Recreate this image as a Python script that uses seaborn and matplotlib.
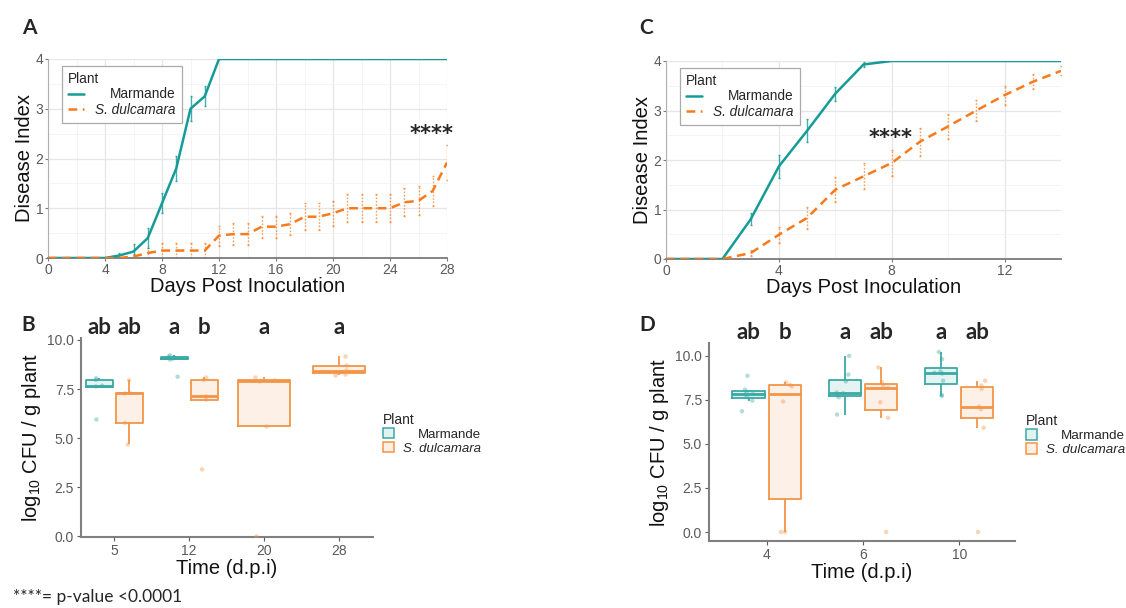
import numpy as np
import pandas as pd
import seaborn as sns
import matplotlib.pyplot as plt
from matplotlib.lines import Line2D
from matplotlib.patches import Patch
from matplotlib.colors import to_rgba

# ---- Disease index, experiment A (days 0-28) ----
days_a = list(range(0, 29))
marm_a = [0, 0, 0, 0, 0, 0.05, 0.13, 0.4, 1.1, 1.8, 3.0, 3.25, 4, 4, 4, 4, 4, 4, 4, 4,
          4, 4, 4, 4, 4, 4, 4, 4, 4]
dulc_a = [0, 0, 0, 0, 0, 0, 0.03, 0.1, 0.15, 0.15, 0.15, 0.15, 0.45, 0.48, 0.48, 0.63,
          0.63, 0.68, 0.83, 0.83, 0.9, 1.0, 1.0, 1.0, 1.0, 1.12, 1.15, 1.35, 1.92]
marm_a_err_days = [5, 6, 7, 8, 9, 10, 11]
marm_a_err = [0.05, 0.15, 0.2, 0.2, 0.25, 0.25, 0.2]
dulc_a_err_days = list(range(6, 29))
dulc_a_err = [0.05, 0.1, 0.15, 0.15, 0.15, 0.15, 0.2, 0.22, 0.22, 0.22, 0.22, 0.22,
              0.27, 0.27, 0.25, 0.28, 0.28, 0.28, 0.28, 0.28, 0.29, 0.3, 0.35]

# ---- Disease index, experiment C (days 0-14) ----
days_c = list(range(0, 15))
marm_c = [0, 0, 0, 0.8, 1.87, 2.59, 3.34, 3.93, 4, 4, 4, 4, 4, 4, 4]
dulc_c = [0, 0, 0, 0.12, 0.49, 0.83, 1.4, 1.67, 1.94, 2.37, 2.68, 3.0, 3.31, 3.58, 3.8]
marm_c_err_days = [3, 4, 5, 6, 7]
marm_c_err = [0.12, 0.24, 0.23, 0.14, 0.05]
dulc_c_err_days = list(range(3, 15))
dulc_c_err = [0.06, 0.16, 0.22, 0.25, 0.26, 0.26, 0.28, 0.25, 0.22, 0.19, 0.15, 0.09]

# ---- Bacterial load, experiment B ----
times_b = ['5', '12', '20', '28']
marm_b = {'5': [5.95, 7.63, 7.67, 7.97, 8.05],
          '12': [8.13, 9.0, 9.05, 9.1, 9.15, 9.22]}
dulc_b = {'5': [4.68, 5.78, 7.28, 7.3, 7.95],
          '12': [3.41, 6.96, 7.13, 7.97, 8.09],
          '20': [0.0, 5.64, 7.92, 7.97, 8.12],
          '28': [8.2, 8.27, 8.38, 8.45, 8.75, 9.2]}
letters_b = ['ab', 'ab', 'a', 'b', 'a', 'a']

# ---- Bacterial load, experiment D ----
times_d = ['4', '6', '10']
marm_d = {'4': [6.86, 7.46, 7.65, 7.8, 7.85, 7.95, 8.08, 8.87],
          '6': [6.67, 7.65, 7.75, 7.88, 7.92, 8.55, 8.94, 10.0],
          '10': [7.74, 7.76, 8.59, 9.0, 9.04, 9.12, 9.81, 10.22]}
dulc_d = {'4': [0.0, 0.0, 7.41, 8.27, 8.35, 8.5],
          '6': [0.0, 6.48, 7.37, 8.18, 8.3, 8.5, 9.34],
          '10': [0.0, 5.92, 6.97, 7.12, 8.12, 8.31, 8.59]}
letters_d = ['ab', 'b', 'a', 'ab', 'a', 'ab']

plants = ['Marmande', 'S. dulcamara']
teal = '#169c98'
orange = '#f77a1c'
teal_box = '#3aa9a5'
orange_box = '#f39548'

sns.set_theme(style='white')
plt.rcParams['font.family'] = ['Liberation Sans', 'DejaVu Sans']
plt.rcParams['mathtext.default'] = 'regular'

fig = plt.figure(figsize=(11.26, 6.08), dpi=100)
W, H = 1126, 608


def px_axes(l, t, r, b):
    return fig.add_axes([l / W, 1 - b / H, (r - l) / W, (b - t) / H])


def legend_align(leg):
    # right-align the labels like the ggplot legend
    fig.canvas.draw()
    texts = leg.get_texts()
    widths = [t.get_window_extent().width for t in texts]
    wmax = max(widths)
    for t, w in zip(texts, widths):
        t.set_x(wmax - w)


def line_panel(ax, days, marm, dulc, me_days, me, de_days, de, xmax, xticks):
    df = pd.DataFrame({'day': days * 2, 'di': marm + dulc,
                       'Plant': ['Marmande'] * len(days) + ['S. dulcamara'] * len(days)})
    ax.set_axisbelow(True)
    ax.xaxis.set_minor_locator(plt.MultipleLocator(xticks[1] / 2))
    ax.yaxis.set_minor_locator(plt.MultipleLocator(0.5))
    ax.grid(which='major', color='#e6e6e6', lw=0.9)
    ax.grid(which='minor', color='#f2f2f2', lw=0.6)
    mvals = [marm[days.index(d)] for d in me_days]
    dvals = [dulc[days.index(d)] for d in de_days]
    eb = ax.errorbar(de_days, dvals, yerr=de, fmt='none', ecolor=orange, alpha=0.7,
                     elinewidth=1.0, capsize=0.8, zorder=2)
    eb.lines[2][0].set_linestyle((0, (1.2, 1.2)))
    ax.errorbar(me_days, mvals, yerr=me, fmt='none', ecolor=teal, alpha=0.8,
                elinewidth=1.0, capsize=1.0, zorder=2)
    sns.lineplot(data=df, x='day', y='di', hue='Plant', style='Plant',
                 palette=[teal, orange], dashes={'Marmande': '', 'S. dulcamara': (3.5, 2.2)},
                 linewidth=1.8, legend=False, ax=ax, zorder=3)
    ax.set_xlim(0, xmax)
    ax.set_ylim(0, 4)
    ax.set_xticks(xticks)
    ax.set_yticks([0, 1, 2, 3, 4])
    ax.set_xlabel('Days Post Inoculation', fontsize=14.5, labelpad=0, color='#111')
    ax.set_ylabel('Disease Index', fontsize=14.5, labelpad=1, color='#111')
    for s in ['top', 'right']:
        ax.spines[s].set_visible(False)
    ax.spines['left'].set_color('#b0b0b0')
    ax.spines['left'].set_linewidth(0.8)
    ax.spines['bottom'].set_color('#7a7a7a')
    ax.spines['bottom'].set_linewidth(1.3)
    ax.tick_params(axis='both', which='major', labelsize=10, labelcolor='#5a5a5a',
                   length=2.5, width=0.8, color='#7a7a7a', pad=1, bottom=True, left=True)
    handles = [Line2D([], [], color=teal, lw=1.8),
               Line2D([], [], color=orange, lw=1.8, dashes=(3.5, 2.2))]
    leg = ax.legend(handles, plants, title='Plant', loc='upper left',
                    bbox_to_anchor=(0.035, 0.965), borderaxespad=0, fontsize=9.8,
                    title_fontsize=9.8, fancybox=False, framealpha=1, edgecolor='#aaaaaa',
                    handlelength=1.2, handletextpad=0.8, labelspacing=0.1,
                    borderpad=0.45)
    leg.get_frame().set_linewidth(0.9)
    leg._legend_box.align = 'left'
    leg.get_texts()[1].set_fontstyle('italic')
    return leg


def box_panel(ax, times, marm, dulc, width_pair, single_width, letters):
    rows_pair, rows_single = [], []
    for t in times:
        if t in marm:
            for v in marm[t]:
                rows_pair.append((t, 'Marmande', v))
            for v in dulc[t]:
                rows_pair.append((t, 'S. dulcamara', v))
        else:
            for v in dulc[t]:
                rows_single.append((t, 'S. dulcamara', v))
    box_kw = dict(fill=False, showfliers=False, showcaps=False, linewidth=1.3,
                  medianprops={'linewidth': 2.0})
    dfp = pd.DataFrame(rows_pair, columns=['time', 'Plant', 'cfu'])
    sns.boxplot(data=dfp, x='time', y='cfu', hue='Plant', order=times, hue_order=plants,
                palette=[teal_box, orange_box], width=width_pair, gap=0.1,
                legend=False, ax=ax, **box_kw)
    if rows_single:
        dfs = pd.DataFrame(rows_single, columns=['time', 'Plant', 'cfu'])
        sns.boxplot(data=dfs, x='time', y='cfu', order=times, color=orange_box,
                    width=single_width, ax=ax, **box_kw)
    # light tinted fill inside each box outline
    for ln in list(ax.lines):
        xd, yd = np.asarray(ln.get_xdata()), np.asarray(ln.get_ydata())
        if len(xd) == 5 and xd[0] == xd[-1] and yd[0] == yd[-1]:
            ax.fill(xd, yd, color=ln.get_color(), alpha=0.13, lw=0, zorder=1.5)
    sns.stripplot(data=dfp, x='time', y='cfu', hue='Plant', order=times, hue_order=plants,
                  palette=[teal_box, orange_box], dodge=True, jitter=0.15, size=3.2,
                  alpha=0.4, linewidth=0, legend=False, ax=ax)
    if rows_single:
        sns.stripplot(data=dfs, x='time', y='cfu', order=times, color=orange_box,
                      jitter=0.15, size=3.2, alpha=0.4, linewidth=0, ax=ax)
    # significance letters above each box
    xs = []
    for i, t in enumerate(times):
        if t in marm:
            xs += [i - width_pair / 4, i + width_pair / 4]
        else:
            xs.append(i)
    for x, lab in zip(xs, letters):
        ax.text(x, 1.0, lab, transform=ax.get_xaxis_transform(), ha='center', va='bottom',
                fontsize=16, fontweight='bold', family=['Lato', 'DejaVu Sans'])
    for s in ['top', 'right']:
        ax.spines[s].set_visible(False)
    for s in ['left', 'bottom']:
        ax.spines[s].set_color('#808080')
        ax.spines[s].set_linewidth(1.5)
    ax.set_yticks([0, 2.5, 5.0, 7.5, 10.0])
    ax.set_yticklabels(['0.0', '2.5', '5.0', '7.5', '10.0'])
    ax.tick_params(axis='both', labelsize=10, labelcolor='#5a5a5a', length=3, width=0.8,
                   color='#5a5a5a', pad=2, bottom=True, left=True)
    ax.set_xlabel('Time (d.p.i)', fontsize=14.5, labelpad=1, color='#111')
    ax.set_ylabel(r'$\mathregular{log_{10}}$ CFU / g plant', fontsize=14.5, labelpad=3,
                  color='#111')


def box_legend(x, y, size):
    handles = [Patch(facecolor=to_rgba(teal_box, 0.15), edgecolor=teal_box, lw=1.1),
               Patch(facecolor=to_rgba(orange_box, 0.15), edgecolor=orange_box, lw=1.1)]
    leg = fig.legend(handles, plants, title='Plant', loc='upper left',
                     bbox_to_anchor=(x / W, 1 - y / H), frameon=False, fontsize=size,
                     title_fontsize=size + 0.5, handlelength=0.8, handleheight=0.8,
                     handletextpad=0.7, labelspacing=0.1, borderpad=0, borderaxespad=0)
    leg._legend_box.align = 'left'
    leg.get_texts()[1].set_fontstyle('italic')
    return leg


# Panel A
axA = px_axes(48, 59, 447, 258)
legA = line_panel(axA, days_a, marm_a, dulc_a, marm_a_err_days, marm_a_err,
                  dulc_a_err_days, dulc_a_err, 28, [0, 4, 8, 12, 16, 20, 24, 28])
axA.text(26.9, 2.5, '****', ha='center', va='center', fontsize=15, fontweight='bold',
         family=['DejaVu Sans'])

# Panel C
axC = px_axes(666, 61, 1061, 259)
legC = line_panel(axC, days_c, marm_c, dulc_c, marm_c_err_days, marm_c_err,
                  dulc_c_err_days, dulc_c_err, 14, [0, 4, 8, 12])
axC.text(7.95, 2.45, '****', ha='center', va='center', fontsize=15, fontweight='bold',
         family=['DejaVu Sans'])

# Panel B
axB = px_axes(81, 338, 373, 537)
box_panel(axB, times_b, marm_b, dulc_b, 0.8, 0.7, letters_b)
axB.set_xlim(-0.44, 3.45)
axB.set_ylim(-0.03, 10.1)

# Panel D
axD = px_axes(709, 343, 1015, 541)
box_panel(axD, times_d, marm_d, dulc_d, 0.75, 0.7, letters_d)
axD.set_xlim(-0.6, 2.58)
axD.set_ylim(-0.51, 10.73)

legB = box_legend(383, 413, 9.5)
legD = box_legend(1026, 414, 9.6)

# panel tags and footnote
for tag, x, y in [('A', 22, 28), ('C', 639, 28), ('B', 21, 325), ('D', 639, 325)]:
    fig.text(x / W, 1 - y / H, tag, ha='left', va='center', fontsize=15,
             fontweight='bold', family=['Lato', 'DejaVu Sans'])
fig.text(13 / W, 1 - 597 / H, '****= p-value <0.0001', ha='left', va='center',
         fontsize=12.5, family=['Lato', 'DejaVu Sans'])

for leg in [legA, legC, legB, legD]:
    legend_align(leg)

fig.savefig('out.png', dpi=100)
